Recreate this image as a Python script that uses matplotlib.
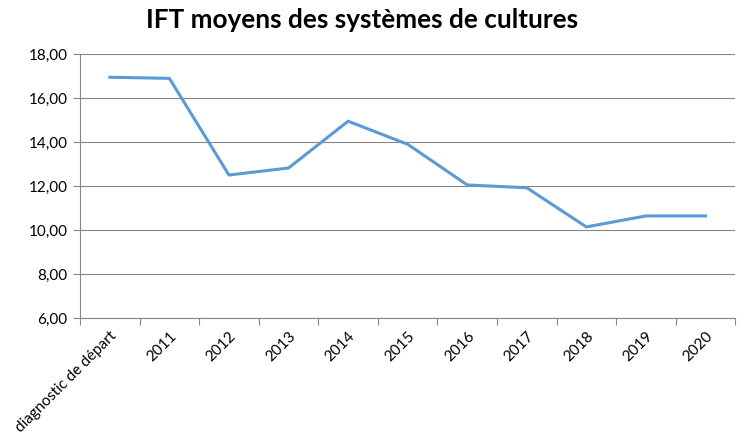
import matplotlib
matplotlib.use("Agg")
import matplotlib.pyplot as plt
import numpy as np

categories = ["diagnostic de départ", "2011", "2012", "2013", "2014", "2015",
              "2016", "2017", "2018", "2019", "2020"]
ift_values = [16.95, 16.90, 12.50, 12.82, 14.95, 13.90, 12.05, 11.92, 10.14, 10.64, 10.64]
y_ticks = [6, 8, 10, 12, 14, 16, 18]
title = "IFT moyens des systèmes de cultures"

plt.rcParams['font.family'] = ['Lato', 'DejaVu Sans']

fig = plt.figure(figsize=(7.48, 4.44), dpi=100)
ax = fig.add_axes([0.107, 0.284, 0.876, 0.594])

x = np.arange(len(categories))
ax.plot(x, ift_values, color="#5B9BD5", linewidth=2.2, solid_joinstyle="round")

ax.set_xlim(-0.5, len(categories) - 0.5)
ax.set_ylim(min(y_ticks), max(y_ticks))
ax.set_yticks(y_ticks)
ax.set_yticklabels([f"{v:.2f}".replace(".", ",") for v in y_ticks], fontsize=11)
ax.yaxis.grid(True, color="#868686", linewidth=0.8)
ax.set_axisbelow(True)

ax.set_xticks(x)
ax.set_xticklabels(categories, rotation=45, ha="right", rotation_mode="anchor", fontsize=11)
ax.tick_params(axis="x", which="major", length=0, pad=8)
ax.set_xticks(np.arange(-0.5, len(categories) + 0.5, 1), minor=True)
ax.tick_params(axis="x", which="minor", length=5, color="#868686", width=0.8)
ax.tick_params(axis="y", length=5, color="#868686", width=0.8, pad=4)

for s in ["top", "right"]:
    ax.spines[s].set_visible(False)
for s in ["left", "bottom"]:
    ax.spines[s].set_color("#868686")
    ax.spines[s].set_linewidth(0.8)

fig.text(0.484, 0.955, title, ha="center", va="center", fontsize=18.8, fontweight="bold")

fig.savefig("out.png", dpi=100)
